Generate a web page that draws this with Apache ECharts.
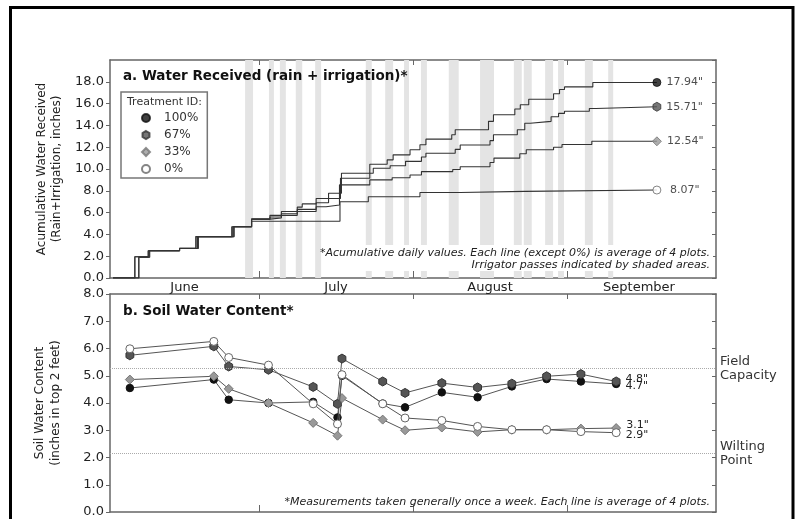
<!DOCTYPE html>
<html>
<head>
<meta charset="utf-8">
<script src="https://cdn.jsdelivr.net/npm/echarts@6/dist/echarts.min.js"></script>
<style>
html,body{margin:0;padding:0;background:#fff;}
#chart{width:801px;height:519px;}
</style>
</head>
<body>
<div id="chart"></div>
<script>
// ---- Data (days since June 1) ----
const monthNames = ['June', 'July', 'August', 'September'];
const monthMid = [15, 45.5, 76.5, 106.5];
const monthStart = [30, 61, 92];

// Irrigator passes (shaded areas), [startDay, endDay]
const bandStart = [27.2, 32.0, 34.2, 37.4, 41.3, 51.5, 55.4, 59.2, 62.6, 68.2, 74.5, 81.3, 83.3, 87.6, 90.2, 95.6, 100.3];
const bandEnd   = [28.8, 33.0, 35.4, 38.7, 42.5, 52.7, 57.0, 60.2, 63.8, 70.2, 77.3, 82.9, 84.9, 89.2, 91.4, 97.2, 101.3];

// a. Accumulative water received (step series)
const a100Days = [0.6, 5.0, 7.7, 14.0, 17.3, 24.7, 28.5, 32.2, 34.5, 37.7, 38.7, 41.5, 44.0, 46.6, 52.3, 55.8, 57.0, 60.4, 62.4, 63.6, 68.8, 69.5, 76.2, 77.2, 81.5, 82.6, 84.3, 89.3, 90.5, 91.5, 97.2, 110.1];
const a100Vals = [0, 1.95, 2.5, 2.72, 3.8, 4.7, 5.4, 5.75, 6.1, 6.5, 6.8, 7.3, 7.77, 9.61, 10.44, 10.84, 11.3, 11.76, 12.22, 12.74, 13.14, 13.6, 14.37, 14.98, 15.5, 15.9, 16.4, 16.9, 17.3, 17.53, 17.94, 17.94];
const a67Days = [0.6, 5.8, 7.9, 14.0, 17.6, 24.9, 28.5, 32.2, 34.5, 37.7, 41.5, 44.0, 46.4, 52.3, 53.0, 56.4, 59.5, 62.7, 63.6, 69.5, 70.5, 76.5, 77.2, 82.0, 83.5, 84.6, 88.8, 90.3, 91.5, 96.5, 97.8, 110.1];
const a67Vals = [0, 1.9, 2.5, 2.7, 3.8, 4.7, 5.4, 5.6, 5.9, 6.3, 6.9, 7.3, 9.15, 9.61, 10.07, 10.3, 10.7, 11.1, 11.45, 11.8, 12.2, 12.6, 13.14, 13.6, 14.2, 14.37, 14.8, 15.1, 15.3, 15.55, 15.71, 15.71];
const a33Days = [0.6, 5.0, 7.7, 14.0, 17.3, 24.5, 28.5, 32.2, 34.5, 37.7, 41.5, 43.5, 46.2, 52.3, 56.8, 60.4, 62.7, 69.0, 70.5, 76.5, 77.3, 82.5, 83.8, 89.3, 91.0, 97.0, 110.1];
const a33Vals = [0, 1.95, 2.5, 2.72, 3.8, 4.7, 5.4, 5.5, 5.75, 6.1, 6.54, 6.7, 8.54, 9.0, 9.2, 9.45, 9.76, 9.95, 10.2, 10.6, 11.0, 11.4, 11.76, 12.0, 12.25, 12.54, 12.54];
const a0Days = [0.6, 5.8, 8.0, 14.0, 17.8, 25.0, 28.5, 46.3, 52.0, 62.4, 70.5, 83.5, 110.1];
const a0Vals = [0, 1.9, 2.5, 2.7, 3.8, 4.7, 5.2, 7.0, 7.46, 7.85, 7.95, 8.07, 8.07];

// b. Soil water content (weekly measurements)
const sDays = [4.0, 20.9, 23.9, 31.9, 40.9, 45.8, 46.7, 54.9, 59.4, 66.8, 74.0, 80.9, 87.9, 94.8, 101.9];
const s100 = [4.55, 4.86, 4.12, 4.0, 4.04, 3.47, 5.0, 3.98, 3.84, 4.39, 4.21, 4.61, 4.88, 4.79, 4.70];
const s67  = [5.75, 6.08, 5.34, 5.22, 4.59, 3.97, 5.63, 4.79, 4.37, 4.73, 4.57, 4.71, 4.98, 5.06, 4.79];
const s33  = [4.86, 4.98, 4.52, 4.0, 3.27, 2.8, 4.18, 3.39, 3.0, 3.1, 2.94, 3.02, 3.02, 3.06, 3.08];
const s0   = [5.99, 6.26, 5.67, 5.39, 3.97, 3.23, 5.04, 3.97, 3.45, 3.36, 3.14, 3.02, 3.02, 2.95, 2.91];
const fieldCapacity = 5.26;
const wiltingPoint = 2.16;

// ---- Chart ----
const FONT = '"DejaVu Sans", sans-serif';
const hexPath = 'path://M0,-1 L0.866,-0.5 L0.866,0.5 L0,1 L-0.866,0.5 L-0.866,-0.5 Z';
const diamondPath = 'path://M0,-1 L1,0 L0,1 L-1,0 Z';
const treatments = [
  {name: '100%', key: 'b100', aDays: a100Days, aVals: a100Vals, s: s100, symbol: 'circle', icon: 'circle', aSize: 8, sSize: 7.5,
   style: {color: '#111', borderColor: '#111', borderWidth: 1}, bOffset: 2.5},
  {name: '67%', key: 'b67', aDays: a67Days, aVals: a67Vals, s: s67, symbol: hexPath, icon: hexPath, aSize: 9, sSize: 9,
   style: {color: '#555', borderColor: '#333', borderWidth: 1}, bOffset: -2.7},
  {name: '33%', key: 'b33', aDays: a33Days, aVals: a33Vals, s: s33, symbol: 'diamond', icon: diamondPath, aSize: 9, sSize: 9,
   style: {color: '#999', borderColor: '#777', borderWidth: 1}, bOffset: -2.6},
  {name: '0%', key: 'b0', aDays: a0Days, aVals: a0Vals, s: s0, symbol: 'circle', icon: 'circle', aSize: 8, sSize: 8,
   style: {color: '#fff', borderColor: '#666', borderWidth: 1}, bOffset: 2}
];

const axisLineStyle = {color: '#666', width: 1.5};
function xAx(grid, pos, labels) {
  return {
    type: 'value', gridIndex: grid, position: pos, min: 0, max: 122,
    axisLine: {show: true, onZero: false, lineStyle: axisLineStyle},
    axisTick: {show: true, inside: true, length: pos === 'bottom' ? 7 : 5, customValues: monthStart, lineStyle: {color: '#666', width: 1}},
    axisLabel: labels ? {
      show: true, customValues: monthMid, margin: 3, fontSize: 13, color: '#222', fontFamily: FONT,
      formatter: v => monthNames[monthMid.indexOf(v)] || ''
    } : {show: false},
    splitLine: {show: false}
  };
}
function yAx(grid, pos, max, interval, name, gap, lh) {
  const left = pos === 'left';
  return {
    type: 'value', gridIndex: grid, position: pos, min: 0, max: max, interval: interval,
    axisLine: {show: true, onZero: false, lineStyle: axisLineStyle},
    axisTick: {show: true, inside: !left, length: 4, lineStyle: {color: '#666', width: 1}},
    axisLabel: left ? {show: true, fontSize: 13, color: '#222', fontFamily: FONT, margin: 6,
      showMaxLabel: max === 8, formatter: v => v.toFixed(1)} : {show: false},
    splitLine: {show: false},
    name: left ? name : '', nameLocation: 'middle', nameGap: gap, nameRotate: 90,
    nameTextStyle: {fontSize: 12, lineHeight: lh, color: '#222', fontFamily: FONT}
  };
}

const series = [];
// shaded irrigation bands
series.push({
  type: 'line', xAxisIndex: 0, yAxisIndex: 0, z: 1, silent: true, symbol: 'none',
  data: [[bandStart[0], 0]], lineStyle: {opacity: 0},
  markArea: {silent: true, itemStyle: {color: '#e4e4e4'},
    data: bandStart.map((s, i) => [{xAxis: s}, {xAxis: bandEnd[i]}])}
});
// step lines
treatments.forEach(t => {
  series.push({
    type: 'line', name: 'line' + t.name, xAxisIndex: 0, yAxisIndex: 0, step: 'end', z: 3, silent: true,
    symbol: 'none', lineStyle: {color: '#333', width: 1.1},
    data: t.aDays.map((d, i) => [d, t.aVals[i]])
  });
});
// end markers (legend)
treatments.forEach(t => {
  const n = t.aDays.length - 1;
  series.push({
    type: 'scatter', name: t.name, xAxisIndex: 0, yAxisIndex: 0, z: 5, silent: true,
    symbol: t.symbol, symbolSize: t.aSize, symbolKeepAspect: true, itemStyle: t.style,
    data: [[t.aDays[n], t.aVals[n]]],
    label: {show: true, position: 'right', distance: 5, fontSize: 11, color: '#222', fontFamily: FONT,
      formatter: p => p.value[1].toFixed(2).padStart(5, ' ') + '"'}
  });
});
// soil water content
treatments.forEach((t, k) => {
  const last = sDays.length - 1;
  const s = {
    type: 'line', name: t.key, xAxisIndex: 2, yAxisIndex: 2, z: 3 + k, silent: true,
    symbol: t.symbol, symbolSize: t.sSize, symbolKeepAspect: true, showSymbol: true,
    itemStyle: t.style, lineStyle: {color: '#555', width: 1},
    data: sDays.map((d, i) => [d, t.s[i]]),
    label: {show: true, position: 'right', distance: 5, fontSize: 11, color: '#222', fontFamily: FONT,
      offset: [0, t.bOffset],
      formatter: p => p.dataIndex === last ? p.value[1].toFixed(1) + '"' : ''}
  };
  if (k === 0) {
    s.markLine = {
      silent: true, symbol: 'none',
      lineStyle: {type: 'dotted', color: '#aaa', width: 1},
      label: {show: true, position: 'end', distance: 4, fontSize: 13, lineHeight: 14, color: '#333', fontFamily: FONT},
      data: [
        {yAxis: fieldCapacity, label: {formatter: 'Field\nCapacity'}},
        {yAxis: wiltingPoint, label: {formatter: 'Wilting\nPoint'}}
      ]
    };
  }
  series.push(s);
});

const option = {
  animation: false,
  backgroundColor: '#fff',
  textStyle: {fontFamily: FONT},
  grid: [
    {left: 110, top: 60, width: 606, height: 218},
    {left: 110, top: 294, width: 606, height: 218}
  ],
  xAxis: [xAx(0, 'bottom', true), xAx(0, 'top', false), xAx(1, 'bottom', false), xAx(1, 'top', false)],
  yAxis: [
    yAx(0, 'left', 20, 2, 'Acumulative Water Received\n(Rain+Irrigation, inches)', 46, 15),
    yAx(0, 'right', 20, 2, '', 0, 15),
    yAx(1, 'left', 8, 1, 'Soil Water Content\n(inches in top 2 feet)', 46, 16),
    yAx(1, 'right', 8, 1, '', 0, 16)
  ],
  legend: {
    left: 121, top: 92, orient: 'vertical', selectedMode: false,
    padding: [20, 9, 3, 20], itemGap: 5, itemWidth: 26, itemHeight: 8,
    borderColor: '#777', borderWidth: 1.5, borderRadius: 0, backgroundColor: '#fff',
    textStyle: {fontSize: 12, lineHeight: 10, color: '#333', fontFamily: FONT},
    data: treatments.map(t => ({name: t.name, icon: t.icon}))
  },
  graphic: [
    {type: 'rect', z: 100, silent: true, shape: {x: 10.5, y: 7.5, width: 782.5, height: 530},
      style: {fill: 'none', stroke: '#000', lineWidth: 3}},
    {type: 'text', z: 100, silent: true, style: {text: 'a. Water Received (rain + irrigation)*', x: 123, y: 76,
      verticalAlign: 'middle', font: 'bold 13.5px "DejaVu Sans"', fill: '#111'}},
    {type: 'text', z: 100, silent: true, style: {text: 'b. Soil Water Content*', x: 123, y: 311,
      verticalAlign: 'middle', font: 'bold 13.5px "DejaVu Sans"', fill: '#111'}},
    {type: 'text', z: 100, silent: true, style: {text: 'Treatment ID:', x: 127, y: 102,
      verticalAlign: 'middle', font: '11px "DejaVu Sans"', fill: '#333'}},
    {type: 'rect', z: 50, silent: true, shape: {x: 330, y: 245, width: 383, height: 26}, style: {fill: '#fff'}},
    {type: 'text', z: 100, silent: true, style: {text: '*Acumulative daily values. Each line (except 0%) is average of 4 plots.',
      x: 710, y: 253, align: 'right', verticalAlign: 'middle', font: 'italic 11px "DejaVu Sans"', fill: '#222'}},
    {type: 'text', z: 100, silent: true, style: {text: 'Irrigator passes indicated by shaded areas.',
      x: 710, y: 265.5, align: 'right', verticalAlign: 'middle', font: 'italic 11px "DejaVu Sans"', fill: '#222'}},
    {type: 'text', z: 100, silent: true, style: {text: '*Measurements taken generally once a week. Each line is average of 4 plots.',
      x: 710, y: 502, align: 'right', verticalAlign: 'middle', font: 'italic 11px "DejaVu Sans"', fill: '#222'}}
  ],
  series: series
};

const chart = echarts.init(document.getElementById('chart'), null, {renderer: 'canvas'});
chart.setOption(option);
</script>
</body>
</html>
